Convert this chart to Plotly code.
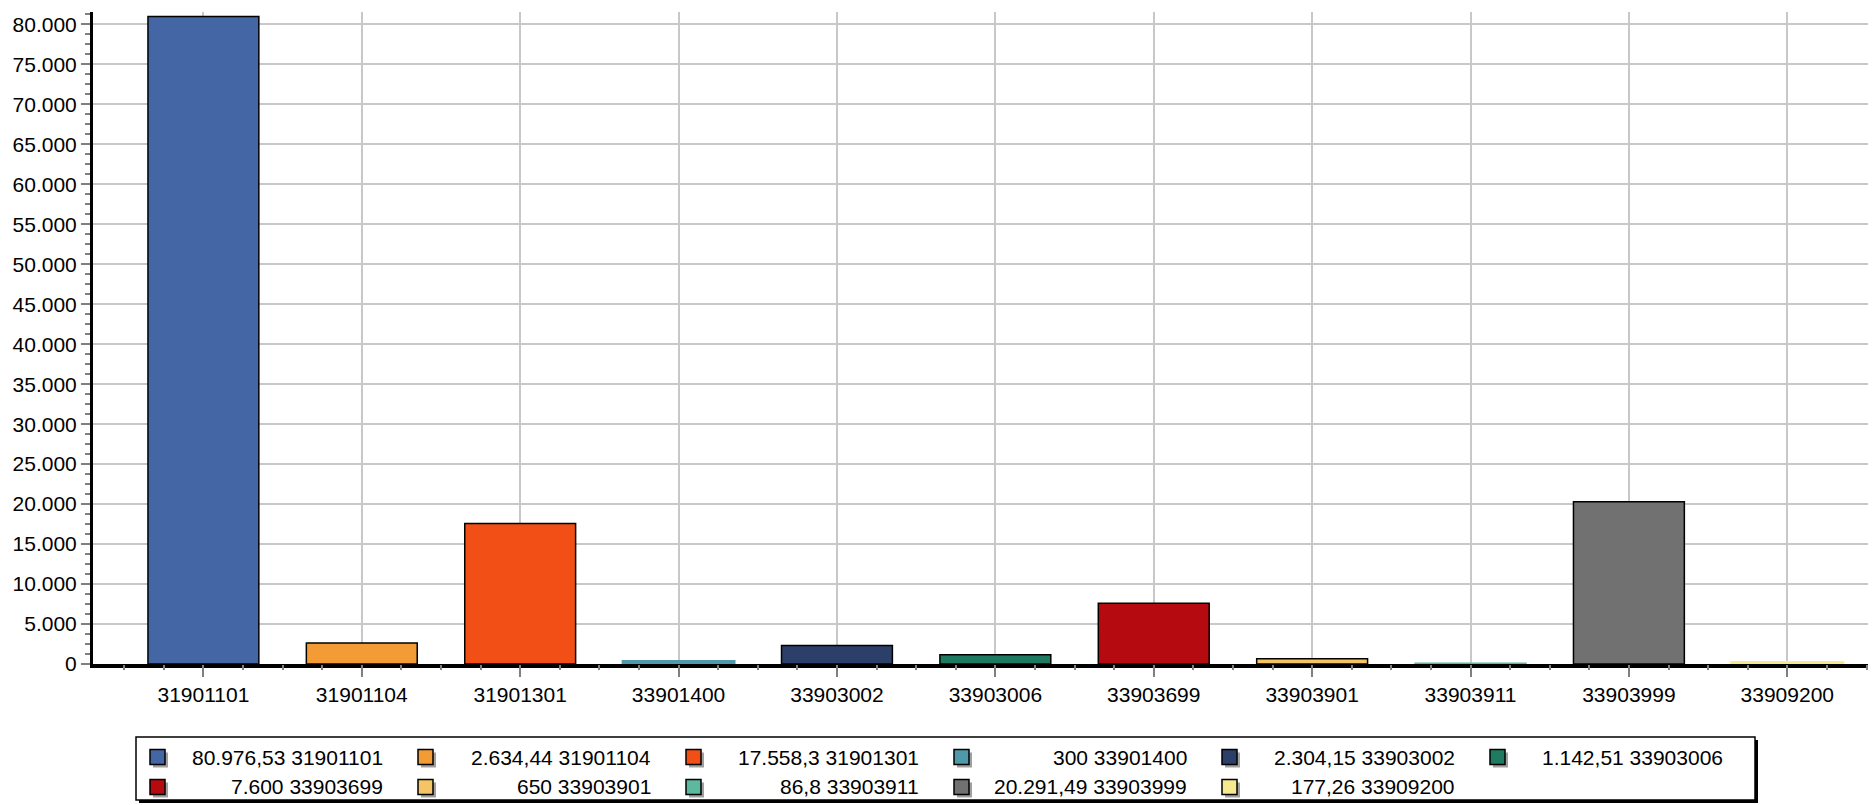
import plotly.graph_objects as go

categories = ["31901101", "31901104", "31901301", "33901400", "33903002", "33903006",
              "33903699", "33903901", "33903911", "33903999", "33909200"]
values = [80976.53, 2634.44, 17558.3, 300, 2304.15, 1142.51, 7600, 650, 86.8, 20291.49, 177.26]
colors = ["#4466a5", "#f39c36", "#f14f16", "#4f9aaa", "#2c3f69", "#1e7b62",
          "#b40a10", "#f5c465", "#5cb89e", "#717171", "#f5ea8e"]
# style: very thin bars are drawn with an outline in their own colour
outline_colors = ["#000000", "#000000", "#000000", "#4f9aaa", "#000000", "#000000",
                  "#000000", "#000000", "#5cb89e", "#000000", "#f5ea8e"]
outline_widths = [1.5, 1.5, 1.5, 3, 1.5, 1.5, 1.5, 1.5, 1.5, 1.5, 3]
y_ticks = list(range(0, 80001, 5000))

FONT = "Liberation Sans, Arial, sans-serif"
OFF = 8  # default page body margin in the written HTML
W, H = 1876 - OFF, 805 - OFF
# plot area in page pixels: left 93, top 12, bottom 664, right 1876
L, R, T, B = 93 - OFF, 0, 12 - OFF, 805 - 664
PW, PH = W - L - R, H - T - B


def px2x(px):
    # page pixel -> paper x
    return (px - OFF - L) / PW


def px2y(py):
    # page pixel -> paper y
    return (H - B - (py - OFF)) / PH


def fmt_de(v):
    s = f"{v:,.2f}".rstrip("0").rstrip(".")
    return s.replace(",", "#").replace(".", ",").replace("#", ".")


fig = go.Figure()
fig.add_trace(go.Bar(
    x=categories, y=values,
    marker=dict(color=colors, line=dict(color=outline_colors, width=outline_widths)),
    width=0.70, showlegend=False, hoverinfo="x+y",
))
# empty helper trace for the minor-tick axis
fig.add_trace(go.Scatter(x=[], y=[], xaxis="x2", yaxis="y", showlegend=False))

xr = [-0.697, 10.56]
fig.update_layout(
    width=W, height=H,
    margin=dict(l=L, r=R, t=T, b=B, pad=0),
    paper_bgcolor="white", plot_bgcolor="white",
    separators=",.",
    font=dict(family=FONT, size=21, color="#000000"),
    xaxis=dict(
        type="category", range=xr,
        showgrid=True, gridcolor="#c8c8c8", gridwidth=1.5,
        showline=True, linecolor="#000000", linewidth=3.5,
        ticks="outside", ticklen=9, tickwidth=1.5, tickcolor="#808080",
        tickfont=dict(family=FONT, size=21, color="#000000"),
        zeroline=False, layer="below traces",
    ),
    xaxis2=dict(
        overlaying="x", anchor="y", side="bottom", range=xr,
        tickmode="linear", tick0=0, dtick=0.25,
        ticks="outside", ticklen=5, tickwidth=1.5, tickcolor="#808080",
        showticklabels=False, showgrid=False, zeroline=False, showline=False,
    ),
    yaxis=dict(
        range=[0, 81550],
        tickvals=y_ticks, tickformat=",",
        showgrid=True, gridcolor="#c8c8c8", gridwidth=1.5,
        showline=True, linecolor="#000000", linewidth=3,
        ticks="outside", ticklen=9, tickwidth=1.5, tickcolor="#808080",
        minor=dict(dtick=1250, tick0=0, ticks="outside", ticklen=5,
                   tickwidth=1.5, tickcolor="#808080", showgrid=False),
        tickfont=dict(family=FONT, size=21, color="#000000"),
        zeroline=False,
    ),
)

# custom legend (box, shadows, swatches, right-aligned text), page pixels
shapes = []
annotations = []
box = (136, 737, 1755, 800)
shapes.append(dict(type="rect", xref="paper", yref="paper",
                   x0=px2x(box[0] + 3), x1=px2x(box[2] + 3),
                   y0=px2y(box[1] + 3), y1=px2y(box[3] + 3),
                   fillcolor="#000000", line=dict(width=0), layer="above"))
shapes.append(dict(type="rect", xref="paper", yref="paper",
                   x0=px2x(box[0]), x1=px2x(box[2]),
                   y0=px2y(box[1]), y1=px2y(box[3]),
                   fillcolor="#ffffff", line=dict(color="#000000", width=1.5), layer="above"))

ncols = 6
row_y = [757, 787]
col_step = 268
sw = 15
for i, (cat, val, col) in enumerate(zip(categories, values, colors)):
    r, c = divmod(i, ncols)
    cy = row_y[r]
    mx = 150 + col_step * c
    shapes.append(dict(type="rect", xref="paper", yref="paper",
                       x0=px2x(mx + 3), x1=px2x(mx + sw + 3),
                       y0=px2y(cy - sw / 2 + 3), y1=px2y(cy + sw / 2 + 3),
                       fillcolor="#a0a0a0", line=dict(width=0), layer="above"))
    shapes.append(dict(type="rect", xref="paper", yref="paper",
                       x0=px2x(mx), x1=px2x(mx + sw),
                       y0=px2y(cy - sw / 2), y1=px2y(cy + sw / 2),
                       fillcolor=col, line=dict(color="#000000", width=1.5), layer="above"))
    annotations.append(dict(xref="paper", yref="paper",
                            x=px2x(385 + col_step * c), y=px2y(cy),
                            xanchor="right", yanchor="middle", showarrow=False,
                            text=f"{fmt_de(val)} {cat}",
                            font=dict(family=FONT, size=21, color="#000000")))

fig.update_layout(shapes=shapes, annotations=annotations)
fig.write_html("out.html")
